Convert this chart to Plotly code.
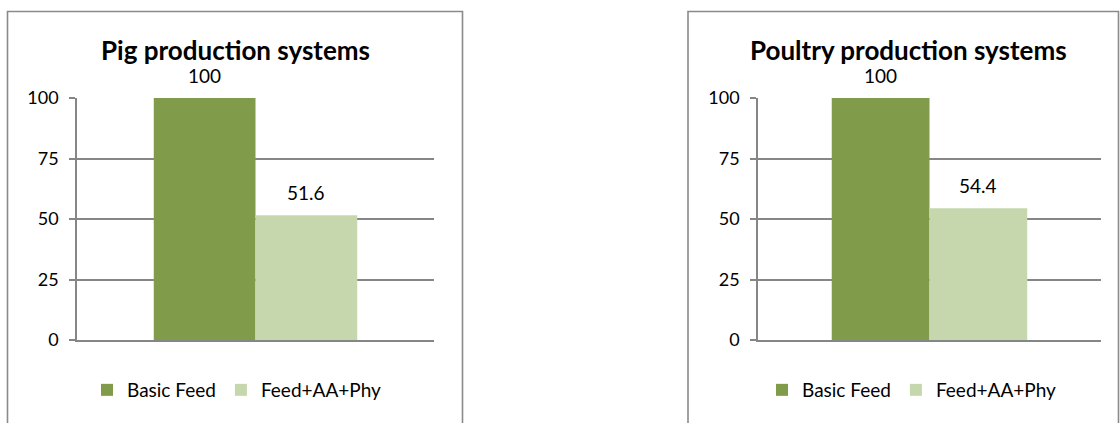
import plotly.graph_objects as go

# ---- data ----
panel_titles = ["Pig production systems", "Poultry production systems"]
categories = ["Pig", "Poultry"]
series_names = ["Basic Feed", "Feed+AA+Phy"]
pig_values = [100, 51.6]
poultry_values = [100, 54.4]
y_tick_vals = [0, 25, 50, 75, 100]

colors = ["#809b4a", "#c6d7ae"]
grid_color = "#868686"
border_color = "#8a8a8a"
FONT = "Lato"

W, H = 1120, 423
def px(x):
    return x / W
def py(y):
    return 1 - y / H

panels = [
    dict(title=panel_titles[0], cat=categories[0], vals=pig_values,
         xdom=(77, 434), box=(7.5, 462.5), title_x=235, legend_x=87,
         xa="x", ya="y", legend="legend"),
    dict(title=panel_titles[1], cat=categories[1], vals=poultry_values,
         xdom=(758, 1101), box=(688, 1118.5), title_x=908.5, legend_x=762,
         xa="x2", ya="y2", legend="legend2"),
]

fig = go.Figure()
annotations = []
shapes = []
layout_axes = {}

for i, p in enumerate(panels):
    for s, name in enumerate(series_names):
        fig.add_trace(go.Bar(
            x=[p["cat"]], y=[p["vals"][s]], name=name,
            marker=dict(color=colors[s], line=dict(width=0)),
            xaxis=p["xa"], yaxis=p["ya"], legend=p["legend"],
            hoverinfo="skip",
        ))
    plot_w = p["xdom"][1] - p["xdom"][0]
    bar_px = plot_w * (1 - 0.43) / 2
    for s, v in enumerate(p["vals"]):
        annotations.append(dict(
            x=p["cat"], y=v, xref=p["xa"], yref=p["ya"],
            text=f"{v:g}", showarrow=False,
            xshift=(s - 0.5) * bar_px, yshift=23, yanchor="middle",
            font=dict(family=FONT, size=19, color="#000000"),
        ))
    annotations.append(dict(
        x=px(p["title_x"]), y=py(50), xref="paper", yref="paper",
        text=f"<b>{p['title']}</b>", showarrow=False,
        xanchor="center", yanchor="middle",
        font=dict(family=FONT, size=26, color="#000000"),
    ))
    shapes.append(dict(
        type="rect", xref="paper", yref="paper",
        x0=px(p["box"][0]), x1=px(p["box"][1]), y0=-0.2, y1=py(11.5),
        line=dict(color=border_color, width=1.6), fillcolor="rgba(0,0,0,0)",
        layer="below",
    ))
    suffix = "" if i == 0 else "2"
    layout_axes["xaxis" + suffix] = dict(
        domain=[px(p["xdom"][0]), px(p["xdom"][1])],
        anchor="y" + suffix, showticklabels=False, ticks="",
        showgrid=False, showline=True, linecolor=grid_color, linewidth=1.5,
        zeroline=False, fixedrange=True, automargin=False,
    )
    layout_axes["yaxis" + suffix] = dict(
        domain=[py(340), py(98)], anchor="x" + suffix,
        range=[0, 100], tickvals=y_tick_vals,
        ticks="outside", ticklen=6, tickcolor=grid_color, tickwidth=1.5,
        showgrid=True, gridcolor=grid_color, gridwidth=1.5,
        showline=True, linecolor=grid_color, linewidth=1.5,
        zeroline=False, fixedrange=True, ticklabelstandoff=7,
        automargin=False,
        tickfont=dict(family=FONT, size=18, color="#000000"),
    )

legend_common = dict(
    orientation="h", xanchor="left", yanchor="middle",
    font=dict(family=FONT, size=19, color="#000000"),
    bgcolor="rgba(0,0,0,0)", borderwidth=0,
)

fig.update_layout(
    width=W, height=H, autosize=False,
    margin=dict(l=0, r=0, t=0, b=0, pad=0),
    paper_bgcolor="white", plot_bgcolor="white",
    barmode="group", bargap=0.43, bargroupgap=0,
    annotations=annotations, shapes=shapes,
    legend=dict(x=px(panels[0]["legend_x"]), y=py(390), **legend_common),
    legend2=dict(x=px(panels[1]["legend_x"]), y=py(390), **legend_common),
    **layout_axes,
)

fig.write_html("out.html", config={"displayModeBar": False},
               post_script="document.body.style.margin='0';document.body.style.overflow='hidden';")
